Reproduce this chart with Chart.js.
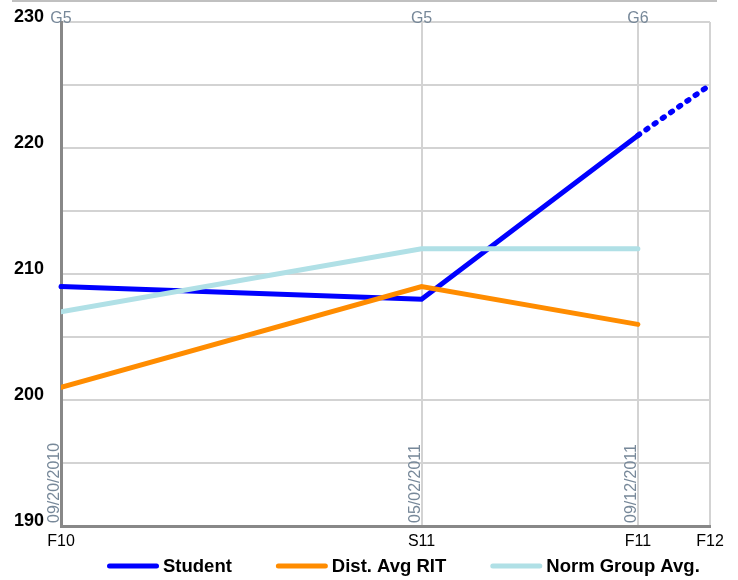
<!DOCTYPE html>
<html>
<head>
<meta charset="utf-8">
<script src="https://cdn.jsdelivr.net/npm/chart.js@4/dist/chart.umd.min.js"></script>
<style>
  html, body { margin: 0; padding: 0; background: #fff; }
  #wrap { width: 738px; height: 580px; position: relative; }
</style>
</head>
<body>
<div id="wrap"><canvas id="c" width="738" height="580"></canvas></div>
<script>
// Test terms along the x axis and where each one sits on it
const termLabels = ['F10', 'S11', 'F11', 'F12'];
const termPositions = [0, 5, 8, 9];

// Grade and test date for each administered test
const gradeLabels = ['G5', 'G5', 'G6'];
const testDates = ['09/20/2010', '05/02/2011', '09/12/2011'];

// RIT scores (student's last point is the projected growth target)
const studentRit = [209, 208, 221, 225];
const districtAvg = [201, 209, 206];
const normGroupAvg = [207, 212, 212];

const FONT = '"Liberation Sans", Arial, sans-serif';

const toPoints = vals => vals.map((v, i) => ({ x: termPositions[i], y: v }));

// Extra text: grade labels on top, rotated test dates, page rule and legend
const decorations = {
  id: 'decorations',
  afterDraw(chart) {
    const { ctx, chartArea, scales } = chart;
    ctx.save();

    // thin rule across the top of the page
    ctx.strokeStyle = '#c0c0c0';
    ctx.lineWidth = 2;
    ctx.beginPath();
    ctx.moveTo(12, 1);
    ctx.lineTo(717, 1);
    ctx.stroke();

    gradeLabels.forEach((g, i) => {
      const x = scales.x.getPixelForValue(termPositions[i]);
      ctx.fillStyle = '#778899';
      ctx.font = '16px ' + FONT;
      ctx.textAlign = 'center';
      ctx.textBaseline = 'alphabetic';
      ctx.fillText(g, x, chartArea.top + 1);

      ctx.save();
      ctx.translate(x - 2, chartArea.bottom - 3);
      ctx.rotate(-Math.PI / 2);
      ctx.font = '16px ' + FONT;
      ctx.textAlign = 'left';
      ctx.textBaseline = 'alphabetic';
      ctx.fillText(testDates[i], 0, 0);
      ctx.restore();
    });

    // legend
    let lx = 107;
    const ly = 566;
    ctx.font = 'bold 18.5px ' + FONT;
    ctx.textBaseline = 'middle';
    ctx.textAlign = 'left';
    chart.data.datasets.forEach(ds => {
      ctx.strokeStyle = ds.borderColor;
      ctx.lineWidth = 5;
      ctx.lineCap = 'round';
      ctx.beginPath();
      ctx.moveTo(lx + 2.5, ly);
      ctx.lineTo(lx + 49.5, ly);
      ctx.stroke();
      ctx.fillStyle = '#000';
      const tx = lx + 56;
      ctx.fillText(ds.label, tx, ly + 1);
      lx = tx + ctx.measureText(ds.label).width + 44;
    });

    ctx.restore();
  }
};

new Chart(document.getElementById('c'), {
  type: 'line',
  data: {
    datasets: [
      {
        label: 'Student',
        data: toPoints(studentRit),
        borderColor: '#0000ff',
        backgroundColor: '#0000ff',
        borderWidth: 5,
        order: 3,
        clip: 8,
        segment: {
          borderDash: c => (c.p0DataIndex === 2 ? [2, 8] : undefined),
          borderWidth: c => (c.p0DataIndex === 2 ? 5.5 : undefined)
        }
      },
      {
        label: 'Dist. Avg RIT',
        data: toPoints(districtAvg),
        borderColor: '#ff8c00',
        backgroundColor: '#ff8c00',
        borderWidth: 5,
        order: 2
      },
      {
        label: 'Norm Group Avg.',
        data: toPoints(normGroupAvg),
        borderColor: '#b0e0e6',
        backgroundColor: '#b0e0e6',
        borderWidth: 5,
        order: 1
      }
    ]
  },
  options: {
    responsive: false,
    animation: false,
    devicePixelRatio: 1,
    layout: { padding: { top: 22, right: 28, left: 0, bottom: 0 } },
    elements: {
      point: { radius: 0, hoverRadius: 0 },
      line: { tension: 0, borderCapStyle: 'round', fill: false }
    },
    plugins: {
      legend: { display: false },
      tooltip: { enabled: false }
    },
    scales: {
      x: {
        type: 'linear',
        min: 0,
        max: 9,
        afterBuildTicks: s => { s.ticks = termPositions.map(v => ({ value: v })); },
        afterFit: s => { s.height = 54; s.paddingLeft = 0; s.paddingRight = 0; },
        ticks: {
          autoSkip: false,
          maxRotation: 0,
          padding: 6,
          color: '#000',
          font: { family: FONT, size: 16 },
          callback: v => termLabels[termPositions.indexOf(v)]
        },
        grid: { color: '#d3d3d3', lineWidth: 2, drawTicks: false },
        border: { color: '#888', width: 3 }
      },
      y: {
        min: 190,
        max: 230,
        afterFit: s => { s.width = 61; s.paddingTop = 0; s.paddingBottom = 0; },
        ticks: {
          stepSize: 5,
          padding: 17,
          labelOffset: -5,
          color: '#000',
          font: { family: FONT, size: 18, weight: 'bold' },
          callback: v => (v % 10 === 0 ? String(v) : '')
        },
        grid: { color: '#d3d3d3', lineWidth: 2, drawTicks: false },
        border: { color: '#888', width: 3 }
      }
    }
  },
  plugins: [decorations]
});
</script>
</body>
</html>
